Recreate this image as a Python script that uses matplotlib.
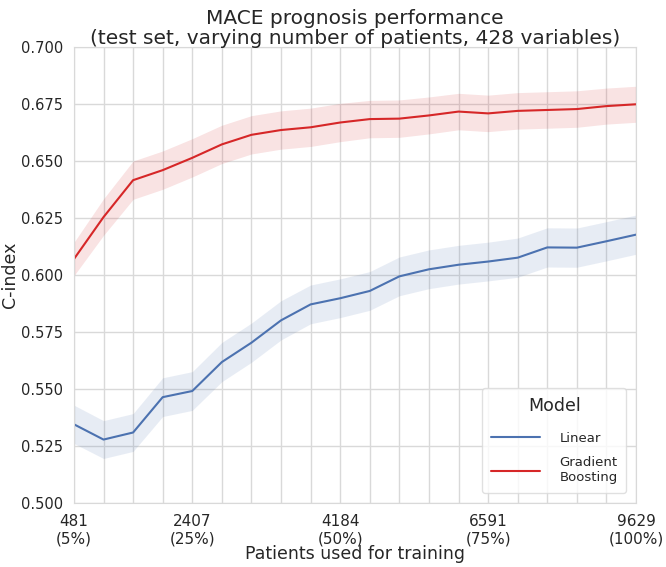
import numpy as np
import matplotlib
matplotlib.use("Agg")
import matplotlib.pyplot as plt
import seaborn as sns

# training set fraction (percent of patients)
pct = [5, 10, 15, 20, 25, 30, 35, 40, 45, 50, 55, 60, 65, 70, 75, 80, 85, 90, 95, 100]
tick_labels = {5: "481\n(5%)", 25: "2407\n(25%)", 50: "4184\n(50%)",
               75: "6591\n(75%)", 100: "9629\n(100%)"}

linear = [0.5345, 0.5278, 0.5309, 0.5464, 0.5491, 0.5618, 0.5703, 0.5801, 0.5871, 0.5898,
          0.5930, 0.5994, 0.6025, 0.6045, 0.6059, 0.6076, 0.6121, 0.6120, 0.6148, 0.6177]
linear_ci = [0.0084, 0.0083, 0.0083, 0.0085, 0.0085, 0.0086, 0.0086, 0.0086, 0.0085, 0.0085,
             0.0085, 0.0085, 0.0085, 0.0085, 0.0085, 0.0086, 0.0086, 0.0086, 0.0086, 0.0086]

gb = [0.6070, 0.6254, 0.6416, 0.6460, 0.6514, 0.6573, 0.6615, 0.6636, 0.6648, 0.6669,
      0.6684, 0.6686, 0.6700, 0.6717, 0.6709, 0.6720, 0.6724, 0.6728, 0.6741, 0.6749]
gb_ci = [0.0073, 0.0080, 0.0084, 0.0084, 0.0084, 0.0084, 0.0084, 0.0084, 0.0084, 0.0084,
         0.0082, 0.0082, 0.0081, 0.0080, 0.0080, 0.0080, 0.0080, 0.0080, 0.0079, 0.0079]

sns.set_style("whitegrid")
plt.rcParams['font.family'] = ['DejaVu Sans']

blue = "#4c72b0"
red = "#d62728"

fig, ax = plt.subplots(figsize=(6.66, 5.67), dpi=100)
fig.subplots_adjust(left=0.111, right=0.955, top=0.917, bottom=0.113)

x = np.array(pct)
for y, ci, col, lab in [(linear, linear_ci, blue, "Linear"),
                        (gb, gb_ci, red, "Gradient\nBoosting")]:
    y = np.array(y)
    ci = np.array(ci)
    ax.fill_between(x, y - ci, y + ci, color=col, alpha=0.13, linewidth=0)
    ax.plot(x, y, color=col, linewidth=1.5, label=lab)

ax.set_xlim(5, 100)
ax.set_ylim(0.5, 0.7)
ax.set_xticks(pct)
ax.set_xticklabels([tick_labels.get(p, "") for p in pct])
ax.set_yticks(np.arange(0.5, 0.7001, 0.025))
ax.set_yticklabels(["%.3f" % v for v in np.arange(0.5, 0.7001, 0.025)])
ax.tick_params(axis="y", labelsize=10.5, colors="#262626", length=0, pad=8)
ax.tick_params(axis="x", labelsize=11, colors="#262626", length=0, pad=8)
ax.grid(color="#d9d9d9", linewidth=1)
for s in ax.spines.values():
    s.set_color("#d9d9d9")

ax.set_xlabel("Patients used for training", fontsize=12.5, color="#262626", labelpad=-1)
ax.set_ylabel("C-index", fontsize=12.5, color="#262626")
ax.yaxis.set_label_coords(-0.097, 0.5)
ax.set_title("MACE prognosis performance\n(test set, varying number of patients, 428 variables)",
             fontsize=14.5, color="#262626", linespacing=1.1, pad=2)

leg = ax.legend(title="Model", loc="lower right", fontsize=9.5, title_fontsize=12.5,
                handlelength=3.7, handletextpad=1.5, labelspacing=0.9,
                borderpad=0.65, borderaxespad=0.75, frameon=True)
leg._legend_box.sep = 12  # a bit more room under the title
leg.get_frame().set_edgecolor("#d9d9d9")
for t in leg.get_texts():
    t.set_color("#262626")
leg.get_title().set_color("#262626")

fig.savefig("out.png", dpi=100)
